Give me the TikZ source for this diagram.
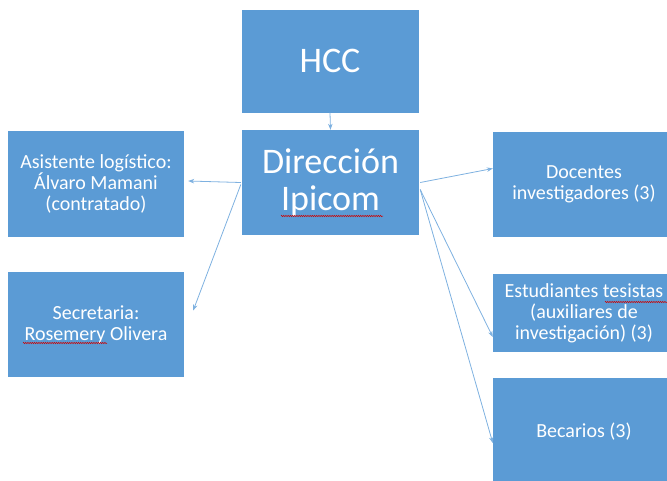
\documentclass[tikz,border=0pt]{standalone}
\usepackage{fontspec}
\setmainfont{Carlito}
\usetikzlibrary{arrows.meta,calc,decorations.pathmorphing}
\definecolor{boxblue}{HTML}{5B9BD5}
\definecolor{arrblue}{HTML}{7EB1E0}
\tikzset{
  orgbox/.style={fill=boxblue, draw=none, text=white, align=center, inner sep=0pt, font=\fontsize{20}{21}\selectfont},
  bigbox/.style={orgbox, font=\fontsize{36}{37}\selectfont},
  conn/.style={draw=arrblue, line width=0.8pt, -{Stealth[length=6pt,width=4.5pt]}},
  squiggle/.style={draw=red!80!black, line width=0.5pt, decorate, decoration={zigzag, amplitude=0.7pt, segment length=2.2pt}}
}
\begin{document}
\begin{tikzpicture}[x=1pt,y=-1pt]
\useasboundingbox (0,0) rectangle (667,480);
\clip (0,0) rectangle (667,480);
\node[bigbox, minimum width=177pt, minimum height=103pt] (hcc) at (330,61) {HCC};
\node[bigbox, minimum width=177pt, minimum height=105pt] (dir) at (330.5,182.5) {Dirección\\Ipicom};
\node[orgbox, minimum width=176pt, minimum height=106pt] (asi) at (96,184) {Asistente logístico:\\Álvaro Mamani\\(contratado)};
\node[orgbox, minimum width=176pt, minimum height=105pt] (sec) at (96,324.5) {Secretaria:\\Rosemery Olivera};
\node[orgbox, minimum width=182pt, minimum height=105pt] (doc) at (584,184.5) {Docentes\\investigadores (3)};
\node[orgbox, minimum width=182pt, minimum height=78pt] (est) at (584,313) {Estudiantes tesistas\\(auxiliares de\\investigación) (3)};
\node[orgbox, minimum width=182pt, minimum height=108pt] (bec) at (584,432) {Becarios (3)};
% connectors
\draw[conn] (hcc.south) -- (dir.north);
\draw[conn] ($(dir.west)+(-1,0)$) -- ($(asi.east)+(4,-3)$);
\draw[conn] ($(dir.west)+(-1,2)$) -- ($(sec.east)+(9,-14)$);
\draw[conn] ($(dir.east)+(1,0)$) -- ($(doc.west)+(0,-16)$);
\draw[conn] ($(dir.east)+(1,7)$) -- ($(est.west)+(0,24)$);
\draw[conn] ($(dir.east)+(1,7)$) -- ($(bec.west)+(0,11)$);
% spell-check underlines
\draw[squiggle] (281,216) -- (383,216);
\draw[squiggle] (23,343) -- (107,343);
\draw[squiggle] (605,302) -- (667,302);
\end{tikzpicture}
\end{document}
